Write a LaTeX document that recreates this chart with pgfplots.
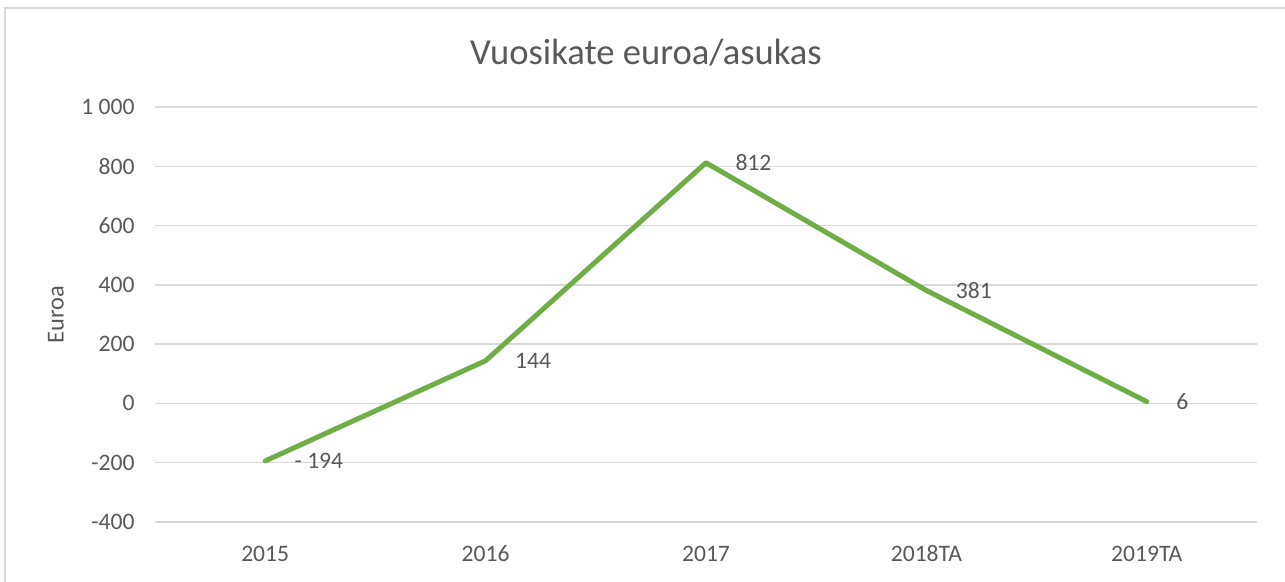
\documentclass[border=0pt]{standalone}
\usepackage{pgfplots}
\pgfplotsset{compat=1.18}
\usepackage{fontspec}
\setmainfont{Carlito}
\definecolor{txt}{HTML}{595959}
\definecolor{gridc}{HTML}{D9D9D9}
\definecolor{lgreen}{HTML}{70AD47}
\begin{document}
\begin{tikzpicture}
\path[use as bounding box] (0,0) rectangle (642.5pt,291pt);
\draw[gridc, line width=0.75pt] (2.5pt,0) -- (2.5pt,287pt) -- (642.5pt,287pt);
\node[anchor=base, font=\fontsize{18.3}{22}\selectfont, text=txt, inner sep=0pt] at (323pt,258.5pt) {Vuosikate euroa/asukas};
\node[rotate=90, font=\fontsize{12.2}{14}\selectfont, text=txt, inner sep=0pt] at (28pt,133.75pt) {Euroa};
\begin{axis}[
  at={(77.5pt,30pt)}, anchor=south west, scale only axis,
  width=551pt, height=207.5pt,
  xmin=-0.5, xmax=4.5, ymin=-400, ymax=1000,
  ytick={-400,-200,...,1000},
  xtick={0,1,2,3,4},
  xticklabels={2015,2016,2017,2018TA,2019TA},
  axis line style={draw=none},
  major tick length=0pt,
  ymajorgrids,
  grid style={gridc, line width=0.75pt},
  /pgf/number format/assume math mode=true,
  /pgf/number format/1000 sep={\ },
  ticklabel style={font=\fontsize{11.8}{14}\selectfont, text=txt},
  yticklabel style={inner sep=0pt, anchor=east, xshift=-10pt},
  xticklabel style={inner sep=0pt, anchor=base, yshift=-19.75pt},
  clip=false,
]
\addplot[lgreen, line width=2.5pt, line cap=round, line join=round, mark=none,
  nodes near coords, point meta=explicit symbolic,
  nodes near coords style={anchor=west, xshift=13.5pt, inner sep=0pt,
    font=\fontsize{11.8}{14}\selectfont, text=txt}]
  coordinates {(0,-194)[- 194] (1,144)[144] (2,812)[812] (3,381)[381] (4,6)[6]};
\end{axis}
\end{tikzpicture}
\end{document}
